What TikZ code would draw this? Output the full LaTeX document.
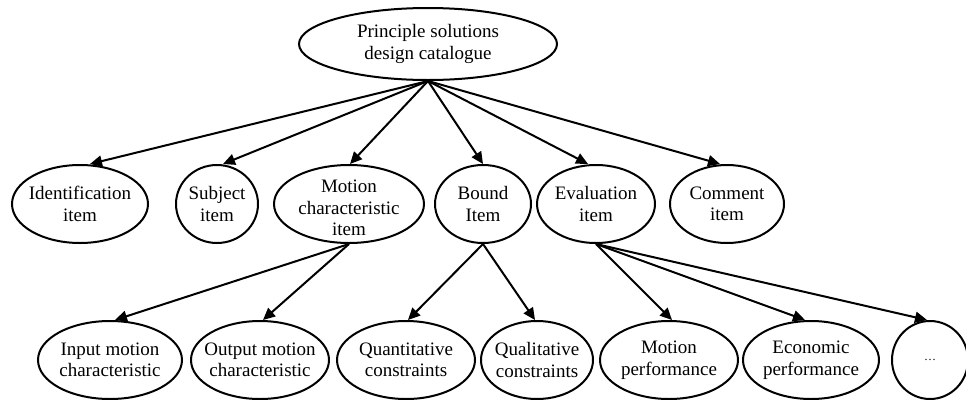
\documentclass[tikz,border=0pt]{standalone}
\usepackage{fontspec}
\setmainfont{Liberation Serif}
\usetikzlibrary{shapes.geometric,arrows.meta}
\begin{document}
\begin{tikzpicture}[x=1pt,y=-1pt,
  el/.style n args={2}{draw,ellipse,line width=2pt,inner sep=0pt,minimum width=#1,minimum height=#2},
  every label/.style={align=center,font=\fontsize{19}{21.5}\selectfont,inner sep=0pt},
  arr/.style={line width=2pt,-{Triangle[length=12pt,width=11pt]}}]
\useasboundingbox (0,0) rectangle (966,399);
% root
\node[el={258pt}{72pt},label=center:{Principle solutions\\design catalogue}] (root) at (428,44) {};
% level 2
\node[el={136pt}{78pt},label=center:{Identification\\item}] (id) at (80,204) {};
\node[el={82pt}{78pt},label=center:{Subject\\item}] (sub) at (217,204) {};
\node[el={150pt}{78pt},label={[yshift=-4pt]center:{Motion\\characteristic\\item}}] (mot) at (349,204) {};
\node[el={96pt}{78pt},label=center:{Bound\\Item}] (bnd) at (483,204) {};
\node[el={118pt}{78pt},label=center:{Evaluation\\item}] (eva) at (596,204) {};
\node[el={114pt}{78pt},label=center:{Comment\\item}] (com) at (727,204) {};
% level 3
\node[el={144pt}{78pt},label=center:{Input motion\\characteristic}] (inp) at (110,360) {};
\node[el={138pt}{78pt},label=center:{Output motion\\characteristic}] (out) at (260,360) {};
\node[el={138pt}{78pt},label=center:{Quantitative\\constraints}] (qnt) at (406,360) {};
\node[el={112pt}{78pt},label=center:{Qualitative\\constraints}] (qlt) at (537,360) {};
\node[el={138pt}{78pt},label=center:{Motion\\performance}] (mpf) at (669,360) {};
\node[el={136pt}{78pt},label=center:{Economic\\performance}] (eco) at (811,360) {};
\node[el={76pt}{78pt},label=center:{\fontsize{12}{12}\selectfont …}] (dots) at (930,360) {};
% connectors
\draw[arr] (root.south) -- ([xshift=10pt]id.north);
\draw[arr] (root.south) -- ([xshift=6pt]sub.north);
\draw[arr] (root.south) -- ([xshift=1pt]mot.north);
\draw[arr] (root.south) -- (bnd.north);
\draw[arr] (root.south) -- ([xshift=-8pt]eva.north);
\draw[arr] (root.south) -- ([xshift=-7pt]com.north);
\draw[arr] (mot.south) -- ([xshift=5pt]inp.north);
\draw[arr] (mot.south) -- ([xshift=3pt]out.north);
\draw[arr] (bnd.south) -- ([xshift=2pt]qnt.north);
\draw[arr] (bnd.south) -- ([xshift=-2pt]qlt.north);
\draw[arr] (eva.south) -- ([xshift=3pt]mpf.north);
\draw[arr] (eva.south) -- ([xshift=-6pt]eco.north);
\draw[arr] (eva.south) -- ([xshift=-3pt]dots.north);
\end{tikzpicture}
\end{document}
